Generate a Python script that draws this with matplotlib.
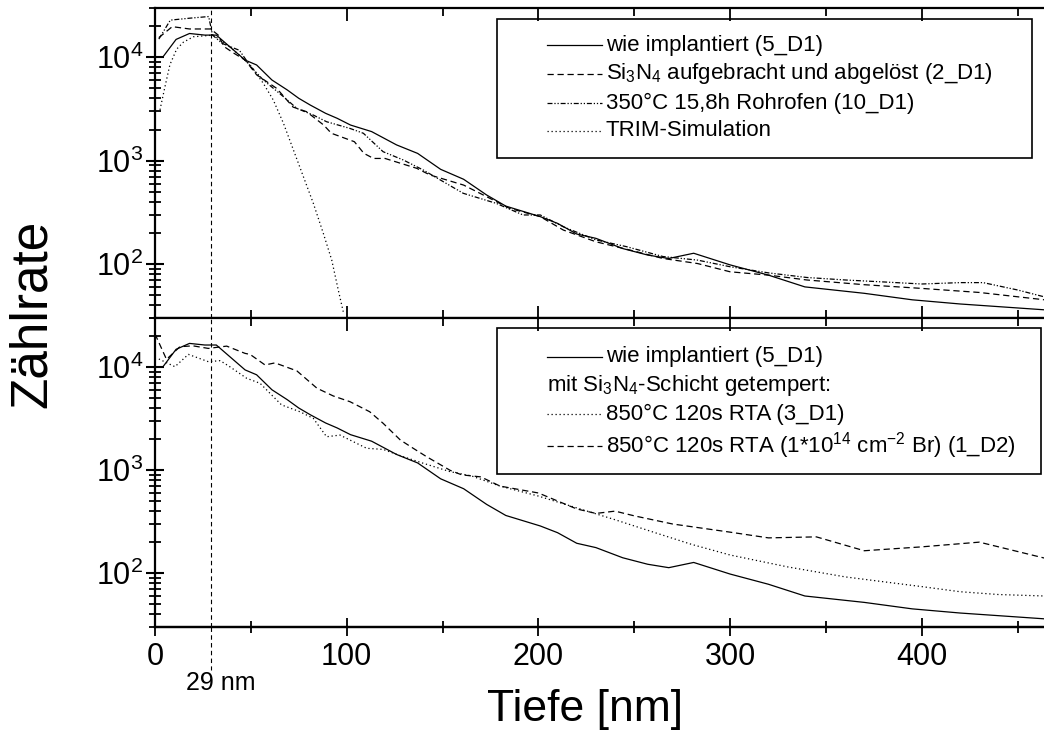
import numpy as np
import matplotlib
matplotlib.use("Agg")
import matplotlib.pyplot as plt
from matplotlib.patches import Rectangle
from matplotlib.lines import Line2D
from matplotlib.ticker import LogLocator, FixedLocator, NullFormatter

plt.rcParams['font.family'] = ['Liberation Sans', 'DejaVu Sans']
plt.rcParams['mathtext.fontset'] = 'custom'
plt.rcParams['mathtext.rm'] = 'Liberation Sans'
plt.rcParams['mathtext.it'] = 'Liberation Sans:italic'
plt.rcParams['mathtext.bf'] = 'Liberation Sans:bold'

# ---- depth profiles (depth in nm, count rate) ----
depth_implant = [0, 4, 11, 18, 26, 32, 47, 53, 61, 69, 75, 81, 89, 95, 102, 113, 126,
                 137, 149, 161, 173, 183, 201, 210, 220, 230, 244, 257, 268, 281, 300,
                 320, 339, 370, 395, 420, 464]
count_implant = [10000, 10000, 14900, 17000, 16400, 16400, 9400, 8430, 6030, 4830, 4010,
                 3450, 2870, 2570, 2210, 1910, 1420, 1175, 824, 660, 465, 363, 287, 247,
                 195, 177, 141, 122, 113, 127, 98, 78, 60, 52, 45, 41, 36]

depth_si3n4 = [2, 9, 18, 29, 33, 36, 41, 47, 53, 63.5, 72, 79, 88, 92, 104, 109, 114,
               120, 136.5, 143.5, 161, 173, 185, 201, 213, 230, 248, 265, 283, 300, 320,
               340, 370, 400, 430, 464]
count_si3n4 = [15500, 19800, 18800, 18800, 16400, 12700, 11000, 9400, 6770, 5000, 3300,
               2980, 2210, 1840, 1525, 1175, 1050, 1050, 843, 726, 580, 448, 345, 287,
               213, 164, 136, 113, 101, 84, 78, 70, 63, 58, 53, 45]

depth_oven = [2, 8, 18, 28, 30, 35, 40, 44, 50, 56.5, 67, 74, 82.6, 89.5, 101.7, 108.7,
              119, 129.5, 140, 160.8, 178, 192, 201, 213, 230, 246, 265, 283, 300, 320,
              340, 360, 380, 400, 420, 432, 450, 464]
count_oven = [15000, 22900, 23900, 24800, 16400, 13650, 12500, 11700, 8100, 6030, 4160,
              3200, 2760, 2380, 2050, 1840, 1220, 1015, 810, 483, 386, 298, 298, 229, 171,
              147, 118, 109, 94, 82, 74, 70, 67, 64, 66, 66, 56, 48]

depth_trim = [2.6, 5.2, 7.8, 11.3, 14.8, 20, 30.4, 39, 49.6, 56.5, 61.7, 67, 72.2, 77.4,
              82.6, 87.8, 92.2, 95.6, 98.2]
count_trim = [3100, 5200, 8500, 12000, 14000, 15800, 16400, 12700, 8430, 5600, 3860, 2300,
              1270, 700, 386, 198, 109, 56, 34.5]

depth_rta = [2, 10.4, 17.4, 27.8, 34, 39, 47.8, 54.8, 66, 75.6, 82.6, 89.5, 96.5, 101.7,
             110.4, 119, 129.5, 140, 154, 165, 180, 200, 220, 240, 260, 280, 300, 330,
             360, 400, 420, 440, 464]
count_rta = [12000, 10100, 13300, 11300, 11560, 10100, 7800, 6970, 4300, 3690, 3180, 2110,
             2190, 1960, 1630, 1590, 1350, 1165, 966, 880, 700, 560, 430, 330, 250, 190,
             150, 115, 92, 74, 66, 62, 60]

depth_rta_br = [0, 6, 13, 19.8, 27.8, 37.4, 47, 49.6, 57.4, 62.6, 74, 84.5, 93, 101.7,
                112, 119, 128, 134.7, 141.7, 154, 160, 170, 180, 200, 220, 230, 240, 250,
                270, 300, 320, 345, 370, 400, 430, 464]
count_rta_br = [21000, 11900, 15800, 16100, 15200, 16000, 13600, 13300, 10500, 11000,
                9200, 6240, 5250, 4620, 3690, 2850, 1960, 1630, 1350, 995, 900, 860, 700,
                600, 420, 380, 400, 360, 300, 250, 220, 225, 165, 180, 200, 140]

x_major = [0, 100, 200, 300, 400]
x_minor = [50, 150, 250, 350, 450]
marker_depth = 29

W, H = 1044, 732
fig = plt.figure(figsize=(W / 100, H / 100), dpi=100)


def fx(px):
    return px / W


def fy(py):
    return 1 - py / H


ax_left, ax_right = 155, 1044
ax1 = fig.add_axes([fx(ax_left), fy(318), (ax_right - ax_left) / W, 310 / H])
ax2 = fig.add_axes([fx(ax_left), fy(627), (ax_right - ax_left) / W, 309 / H])

solid = dict(color='black', lw=0.9, linestyle='-')
dashed = dict(color='black', lw=0.9, linestyle=(0, (5, 3)))
dashdot = dict(color='black', lw=0.9, linestyle=(0, (4, 1.5, 1, 1.5, 1, 1.5)))
dotted = dict(color='black', lw=0.9, linestyle=(0, (1, 2.2)))

ax1.plot(depth_implant, count_implant, **solid)
ax1.plot(depth_si3n4, count_si3n4, **dashed)
ax1.plot(depth_oven, count_oven, **dashdot)
ax1.plot(depth_trim, count_trim, **dotted)

ax2.plot(depth_implant, count_implant, **solid)
ax2.plot(depth_rta, count_rta, **dotted)
ax2.plot(depth_rta_br, count_rta_br, **dashed)

for ax in (ax1, ax2):
    ax.set_yscale('log')
    ax.set_ylim(30, 30000)
    ax.set_xlim(0, (ax_right - ax_left) / 1.917)
    ax.axvline(marker_depth, color='black', lw=0.8, linestyle=(0, (4, 3)))
    ax.xaxis.set_major_locator(FixedLocator(x_major))
    ax.xaxis.set_minor_locator(FixedLocator(x_minor))
    ax.yaxis.set_major_locator(LogLocator(base=10, numticks=10))
    ax.yaxis.set_minor_locator(LogLocator(base=10, subs=np.arange(2, 10), numticks=20))
    ax.yaxis.set_minor_formatter(NullFormatter())
    ax.spines['right'].set_visible(False)
    for s in ('left', 'top', 'bottom'):
        ax.spines[s].set_linewidth(1.6)
    ax.tick_params(axis='y', which='major', direction='inout', length=13, width=1.5,
                   labelsize=22, pad=2)
    ax.tick_params(axis='y', which='minor', direction='inout', length=8, width=1.3)
    ax.tick_params(axis='x', which='both', top=True, direction='in', width=1.3)
    ax.tick_params(axis='x', which='major', length=9)
    ax.tick_params(axis='x', which='minor', length=6)

ax1.tick_params(axis='x', labelbottom=False)
ax2.tick_params(axis='x', which='both', bottom=False, labelbottom=False)
# crossing ticks on the bottom axis of the lower panel
sec = ax2.secondary_xaxis('bottom')
sec.set_xticks(x_major)
sec.xaxis.set_minor_locator(FixedLocator(x_minor))
sec.tick_params(axis='x', which='major', direction='inout', length=13, width=1.3,
                labelsize=22, pad=4)
sec.tick_params(axis='x', which='minor', direction='inout', length=9, width=1.3)
sec.spines['bottom'].set_linewidth(1.6)

# marker line continued below the lower panel
ax2.plot([marker_depth, marker_depth], [0, -0.14], transform=ax2.get_xaxis_transform(),
         color='black', lw=0.8, linestyle=(0, (4, 3)), clip_on=False)

fig.text(fx(221), fy(683), '29 nm', fontsize=18, ha='center', va='center')
fig.text(fx(585), fy(710), 'Tiefe [nm]', fontsize=32, ha='center', va='center')
fig.text(fx(32), fy(314), 'Zählrate', fontsize=37, ha='center', va='center', rotation=90)


def legend_box(x0, y0, x1, y1, rows):
    fig.add_artist(Rectangle((fx(x0), fy(y1)), fx(x1) - fx(x0), fy(y0) - fy(y1),
                             transform=fig.transFigure, fill=False, lw=1.2,
                             edgecolor='black'))
    for y, style, label in rows:
        if style is None:
            fig.text(fx(547), fy(y), label, fontsize=16, ha='left', va='center')
        else:
            fig.add_artist(Line2D([fx(547), fx(602)], [fy(y), fy(y)],
                                  transform=fig.transFigure, **style))
            fig.text(fx(606), fy(y), label, fontsize=16, ha='left', va='center')


legend_box(497, 19, 1032, 158, [
    (45, solid, 'wie implantiert (5_D1)'),
    (74, dashed, 'Si$_3$N$_4$ aufgebracht und abgelöst (2_D1)'),
    (103, dashdot, '350°C 15,8h Rohrofen (10_D1)'),
    (131, dotted, 'TRIM-Simulation'),
])
legend_box(497, 328, 1041, 474, [
    (357, solid, 'wie implantiert (5_D1)'),
    (385, None, 'mit Si$_3$N$_4$-Schicht getempert:'),
    (414, dotted, '850°C 120s RTA (3_D1)'),
    (446, dashed, '850°C 120s RTA (1*10$^{14}$ cm$^{-2}$ Br) (1_D2)'),
])

fig.savefig('out.png', dpi=100)
